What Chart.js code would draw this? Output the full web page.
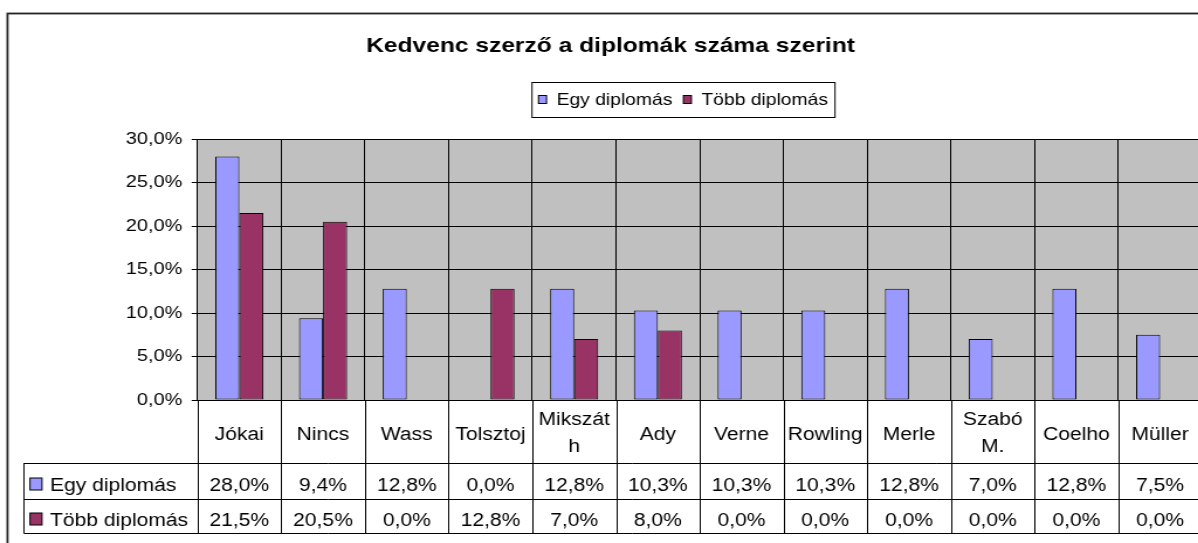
<!DOCTYPE html>
<html>
<head>
<meta charset="utf-8">
<script src="https://cdn.jsdelivr.net/npm/chart.js@4.4.1/dist/chart.umd.min.js"></script>
<style>
  body { margin: 0; overflow: hidden; background: #fff; }
  /* the original picture is stretched sideways, so the whole canvas is too */
  #wrap { width: 1060px; height: 543px; transform: scaleX(1.17); transform-origin: 0 0; }
</style>
</head>
<body>
<div id="wrap"><canvas id="chart" width="1060" height="543"></canvas></div>
<script>
const SX = 1.17;

const categories = ['Jókai', 'Nincs', 'Wass', 'Tolsztoj', ['Mikszát', 'h'], 'Ady', 'Verne', 'Rowling', 'Merle', ['Szabó', 'M.'], 'Coelho', 'Müller'];
const seriesNames = ['Egy diplomás', 'Több diplomás'];
const egyDiplomas = [28.0, 9.4, 12.8, 0.0, 12.8, 10.3, 10.3, 10.3, 12.8, 7.0, 12.8, 7.5];
const tobbDiplomas = [21.5, 20.5, 0.0, 12.8, 7.0, 8.0, 0.0, 0.0, 0.0, 0.0, 0.0, 0.0];
const seriesColors = ['#9999FF', '#993366'];
const yMax = 30;
const yStep = 5;

const FONT = '"Liberation Sans", Arial, sans-serif';
Chart.defaults.font.family = FONT;
Chart.defaults.color = '#000';

const pct = v => v.toFixed(1).replace('.', ',') + '%';
const X = px => px / SX; // reference px -> canvas px

// grey plot background
const plotBg = {
  id: 'plotBg',
  beforeDraw(chart) {
    const {ctx, chartArea: a} = chart;
    ctx.save();
    ctx.fillStyle = '#C0C0C0';
    ctx.fillRect(a.left, a.top, a.right - a.left, a.bottom - a.top);
    ctx.restore();
  }
};

// legend box, data table and outer frame
const extras = {
  id: 'extras',
  afterDraw(chart) {
    const {ctx, chartArea: a} = chart;
    const xs = chart.scales.x;
    const cw = (a.right - a.left) / categories.length;
    const data = [egyDiplomas, tobbDiplomas];
    ctx.save();

    // legend
    ctx.font = '16.5px ' + FONT;
    ctx.textBaseline = 'alphabetic';
    ctx.textAlign = 'left';
    const lx0 = X(532), lx1 = X(835);
    ctx.fillStyle = '#fff';
    ctx.fillRect(lx0, 82.5, lx1 - lx0, 35);
    ctx.strokeStyle = '#000';
    ctx.lineWidth = 1;
    ctx.strokeRect(lx0, 82.5, lx1 - lx0, 35);
    let lx = X(538.5);
    seriesNames.forEach((name, i) => {
      ctx.fillStyle = seriesColors[i];
      ctx.fillRect(lx, 95.5, X(8), 8);
      ctx.strokeRect(lx, 95.5, X(8), 8);
      ctx.fillStyle = '#000';
      ctx.fillText(name, lx + X(18), 104.5);
      lx += X(18) + ctx.measureText(name).width + X(11);
    });

    // data table lines
    const rowTop = [463, 499, 533];
    const tLeft = X(24);
    ctx.strokeStyle = '#000';
    ctx.lineWidth = 1;
    ctx.beginPath();
    for (let i = 0; i <= categories.length; i++) {
      const x = Math.round(a.left + i * cw) + 0.5;
      ctx.moveTo(x, a.bottom);
      ctx.lineTo(x, 533);
    }
    rowTop.forEach(y => {
      ctx.moveTo(tLeft, y + 0.5);
      ctx.lineTo(1060, y + 0.5);
    });
    ctx.moveTo(tLeft, 463);
    ctx.lineTo(tLeft, 533.5);
    ctx.stroke();

    // category row
    ctx.font = '18px ' + FONT;
    ctx.textAlign = 'center';
    ctx.fillStyle = '#000';
    categories.forEach((c, i) => {
      const x = xs.getPixelForValue(i);
      if (Array.isArray(c)) {
        ctx.fillText(c[0], x, 425);
        ctx.fillText(c[1], x, 452);
      } else {
        ctx.fillText(c, x, 440);
      }
    });

    // series rows
    const base = [490.5, 525.5];
    seriesNames.forEach((name, s) => {
      ctx.fillStyle = seriesColors[s];
      const ky = base[s] - 12.5;
      ctx.fillRect(X(30), ky, X(12), 12);
      ctx.strokeRect(X(30), ky, X(12), 12);
      ctx.fillStyle = '#000';
      ctx.textAlign = 'left';
      ctx.fillText(name, X(50), base[s]);
      ctx.textAlign = 'center';
      data[s].forEach((v, i) => ctx.fillText(pct(v), xs.getPixelForValue(i), base[s]));
    });

    // outer chart frame
    ctx.lineWidth = 1.8;
    ctx.strokeStyle = '#222';
    ctx.strokeRect(X(7.5), 13.5, 2000, 2000);
    ctx.restore();
  }
};

const ctx = document.getElementById('chart').getContext('2d');

new Chart(ctx, {
  type: 'bar',
  data: {
    labels: categories,
    datasets: [
      {
        label: seriesNames[0],
        data: egyDiplomas,
        backgroundColor: seriesColors[0],
        borderColor: '#000',
        borderWidth: 1,
        borderSkipped: false
      },
      {
        label: seriesNames[1],
        data: tobbDiplomas,
        backgroundColor: seriesColors[1],
        borderColor: '#000',
        borderWidth: 1,
        borderSkipped: false
      }
    ]
  },
  options: {
    responsive: false,
    animation: false,
    categoryPercentage: 0.574,
    barPercentage: 1,
    layout: {
      padding: { top: 10, left: 16.3, right: 32.7, bottom: 143 }
    },
    scales: {
      x: {
        ticks: { display: false },
        grid: { color: '#000', offset: true, drawTicks: false },
        border: { display: false },
        afterFit: s => { s.height = 0; }
      },
      y: {
        min: 0,
        max: yMax,
        ticks: {
          stepSize: yStep,
          padding: 8,
          font: { size: 17 },
          callback: v => pct(v)
        },
        grid: { color: '#000', tickLength: 5 },
        border: { color: '#000' },
        afterFit: s => { s.width = 152.5; }
      }
    },
    plugins: {
      legend: { display: false },
      tooltip: { enabled: false },
      title: {
        display: true,
        text: 'Kedvenc szerző a diplomák száma szerint',
        font: { size: 21, weight: 'bold' },
        padding: { top: 23.4, bottom: 80.4 }
      }
    }
  },
  plugins: [plotBg, extras]
});
</script>
</body>
</html>
